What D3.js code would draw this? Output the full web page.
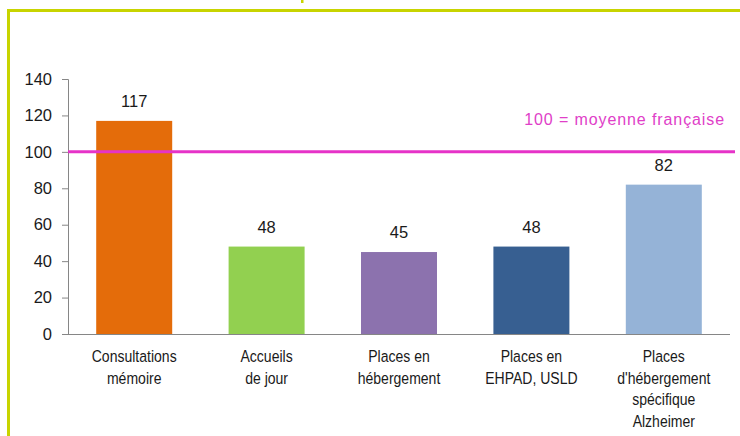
<!DOCTYPE html>
<html>
<head>
<meta charset="utf-8">
<script src="https://cdn.jsdelivr.net/npm/d3@7"></script>
<style>
  body { margin: 0; background: #fff; }
  text { font-family: "Liberation Sans", Arial, sans-serif; }
</style>
</head>
<body>
<script>
// categories (multi-line labels) and values
var categories = [
    ["Consultations", "mémoire"],
    ["Accueils", "de jour"],
    ["Places en", "hébergement"],
    ["Places en", "EHPAD, USLD"],
    ["Places", "d'hébergement", "spécifique", "Alzheimer"]
];
var values = [117, 48, 45, 48, 82];
var colors = ["#E46C0A", "#92D050", "#8C72AE", "#375F91", "#95B3D7"];
var yTicks = [0, 20, 40, 60, 80, 100, 120, 140];
var reference = 100;
var referenceLabel = "100 = moyenne française";

var W = 740, H = 436;
var margin = {top: 79, right: 10, bottom: 102, left: 68},
    width = W - margin.left - margin.right,
    height = H - margin.top - margin.bottom;

var root = d3.select("body").append("svg")
    .attr("width", W)
    .attr("height", H);

// frame of the slide (border in yellow-green)
root.append("path")
    .attr("d", "M8.5," + (H + 5) + " V10.5 H" + (W + 5))
    .attr("fill", "none")
    .attr("stroke", "#C8D400")
    .attr("stroke-width", 3);
// bit of the title cut at the top edge
root.append("rect")
    .attr("x", 301).attr("y", 0)
    .attr("width", 2.5).attr("height", 3)
    .attr("fill", "#C8D400");

var svg = root.append("g")
    .attr("transform", "translate(" + margin.left + "," + margin.top + ")");

var x = d3.scaleBand()
    .domain(d3.range(categories.length))
    .range([0, width])
    .paddingInner(0.426)
    .paddingOuter(0.213);

var y = d3.scaleLinear().domain([0, 140]).range([height, 0]);

// y axis
var yAxis = svg.append("g")
    .call(d3.axisLeft(y).tickValues(yTicks).tickSize(6).tickPadding(10));
yAxis.select(".domain").attr("stroke", "#868686");
yAxis.selectAll(".tick line").attr("stroke", "#868686");
yAxis.selectAll(".tick text")
    .attr("fill", "#1a1a1a")
    .attr("font-size", 16.5)
    .style("font-family", "'Liberation Sans', sans-serif");

// bars
svg.selectAll("rect.bar")
    .data(values)
    .enter()
    .append("rect")
    .attr("class", "bar")
    .attr("x", function(d, i) { return x(i); })
    .attr("y", function(d) { return y(d); })
    .attr("width", x.bandwidth())
    .attr("height", function(d) { return height - y(d); })
    .attr("fill", function(d, i) { return colors[i]; });

// value labels
svg.selectAll("text.val")
    .data(values)
    .enter()
    .append("text")
    .attr("class", "val")
    .attr("x", function(d, i) { return x(i) + x.bandwidth() / 2; })
    .attr("y", function(d) { return y(d) - 14; })
    .attr("text-anchor", "middle")
    .attr("font-size", 16.5)
    .attr("fill", "#1a1a1a")
    .text(function(d) { return d; });

// x axis baseline
svg.append("line")
    .attr("x1", 0).attr("x2", width)
    .attr("y1", height + 0.5).attr("y2", height + 0.5)
    .attr("stroke", "#868686");

// category labels, squeezed horizontally like the narrow font of the original
var lab = svg.selectAll("text.cat")
    .data(categories)
    .enter()
    .append("text")
    .attr("class", "cat")
    .attr("text-anchor", "middle")
    .attr("font-size", 16.5)
    .attr("fill", "#1a1a1a")
    .attr("transform", function(d, i) {
        return "translate(" + (x(i) + x.bandwidth() / 2) + "," + (height + 28) +
            ") scale(0.85,1)";
    });
lab.selectAll("tspan")
    .data(function(d) { return d; })
    .enter()
    .append("tspan")
    .attr("x", 0)
    .attr("y", function(d, i) { return i * 21.7; })
    .text(function(d) { return d; });

// reference line at 100
svg.append("line")
    .attr("x1", 0).attr("x2", width + 5)
    .attr("y1", y(reference)).attr("y2", y(reference))
    .attr("stroke", "#E633C8")
    .attr("stroke-width", 3);

svg.append("text")
    .attr("x", width - 5)
    .attr("y", y(reference) - 27)
    .attr("text-anchor", "end")
    .attr("font-size", 16)
    .attr("letter-spacing", 0.9)
    .attr("fill", "#E040C8")
    .text(referenceLabel);
</script>
</body>
</html>
